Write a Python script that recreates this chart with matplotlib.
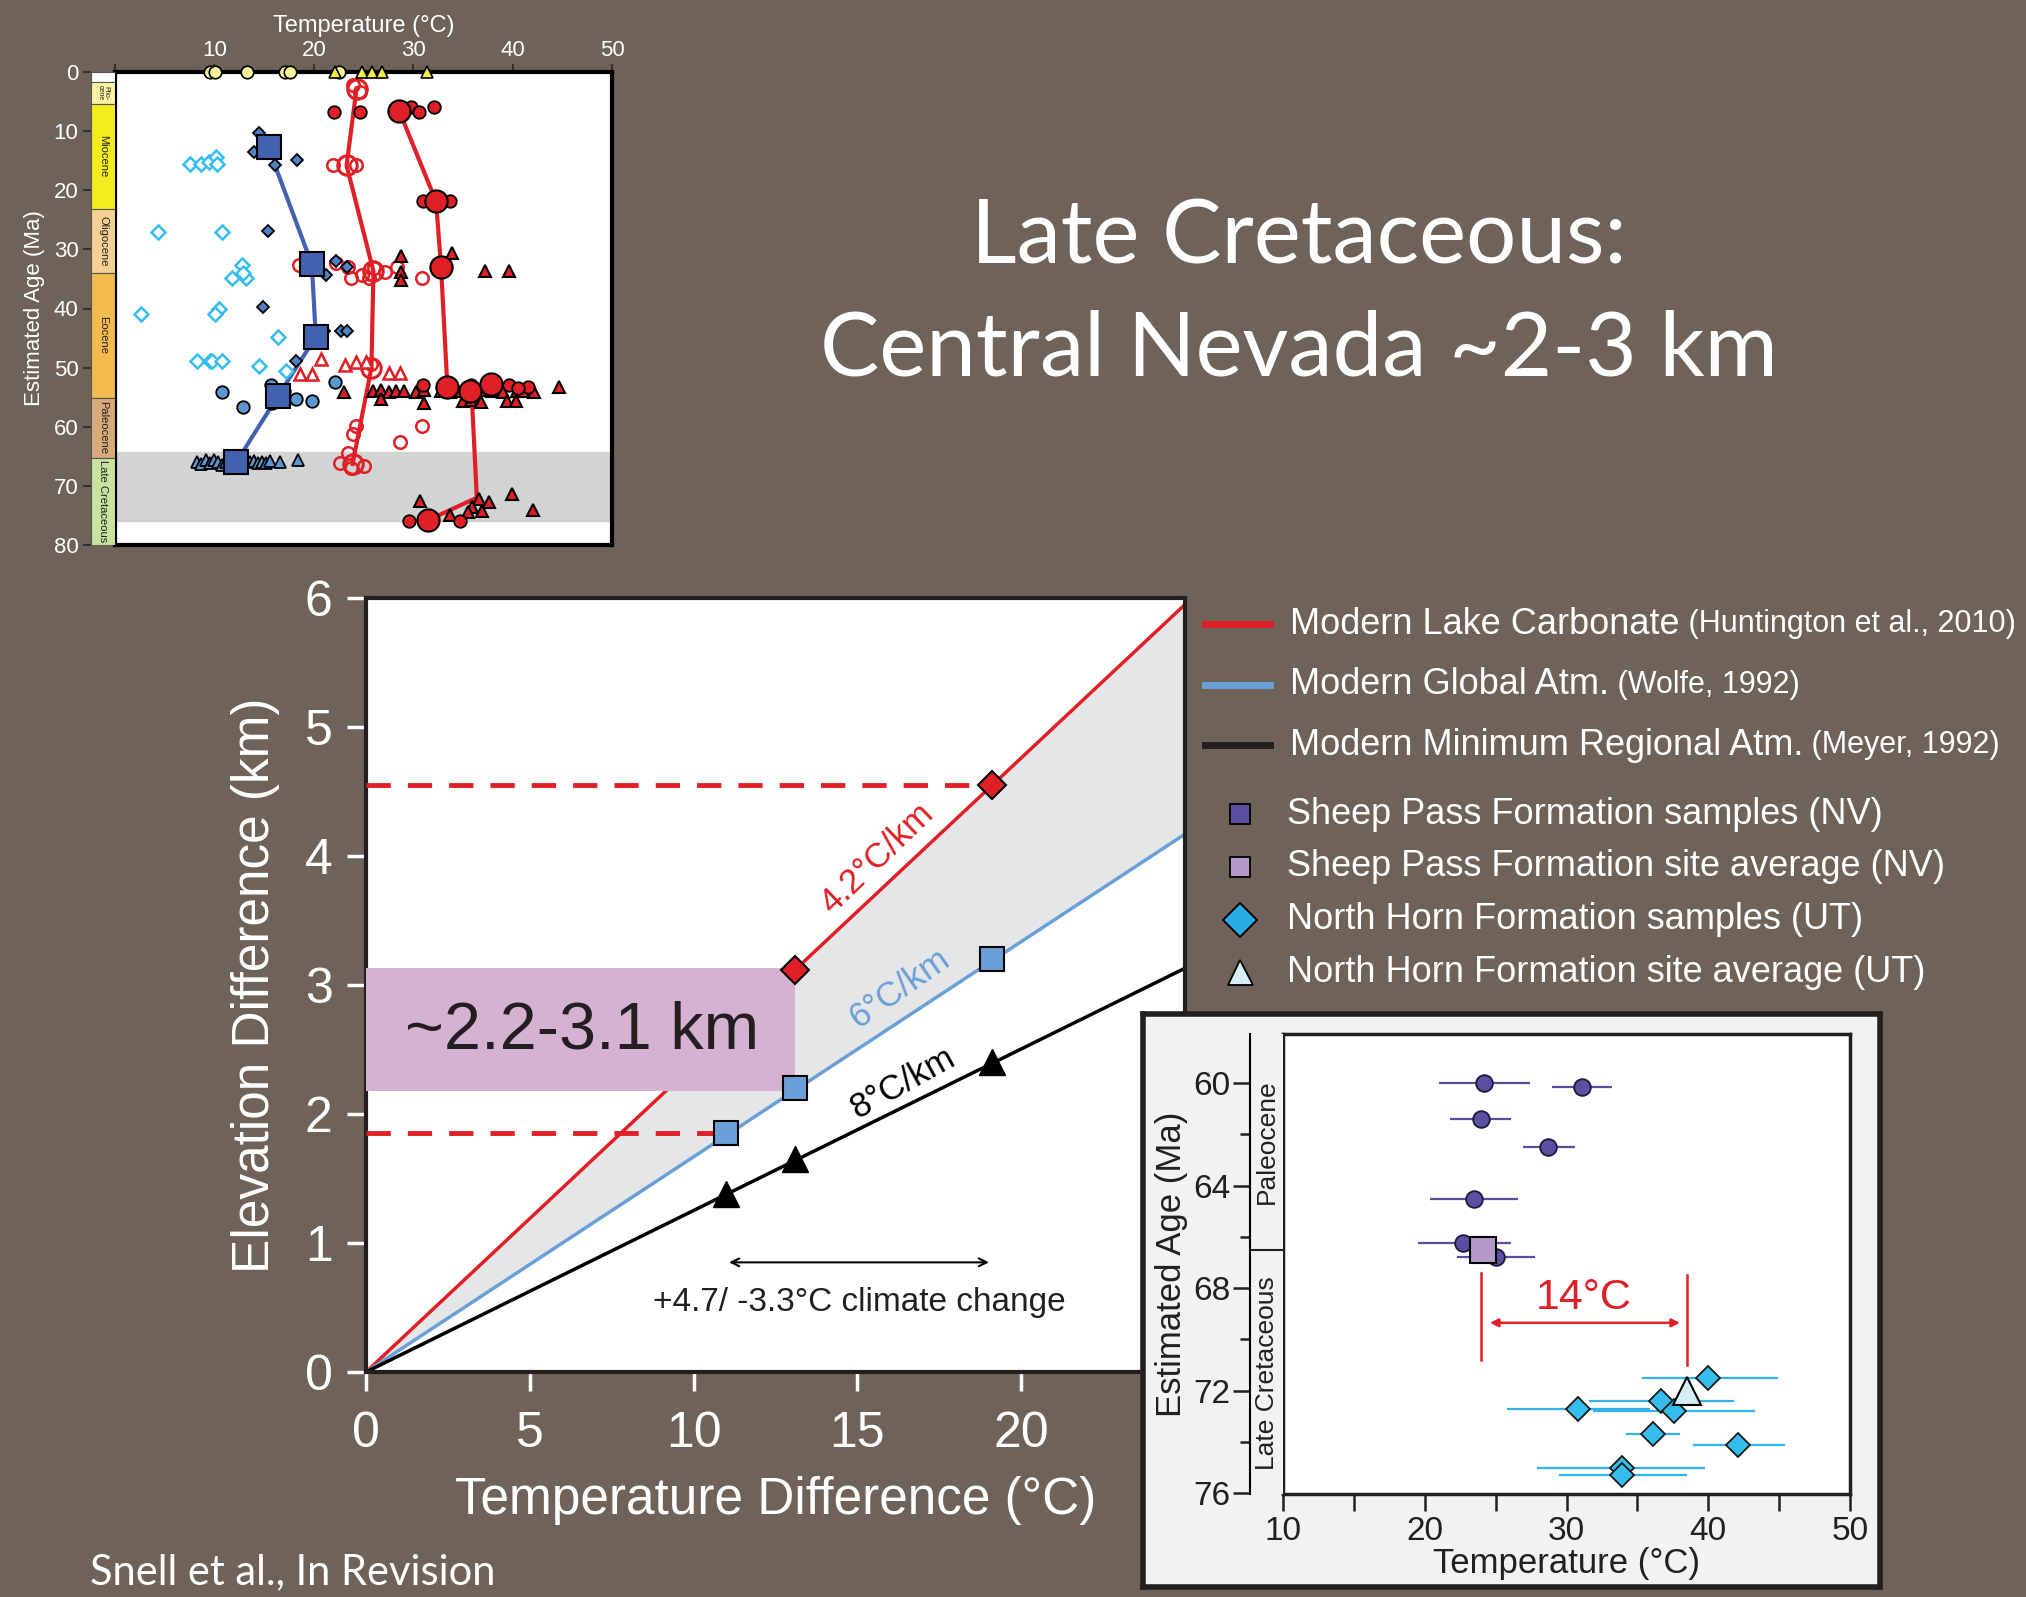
import matplotlib
matplotlib.use("Agg")
import matplotlib.pyplot as plt
import numpy as np
from matplotlib.lines import Line2D
from matplotlib.patches import Rectangle

plt.rcParams['font.family'] = ['Liberation Sans', 'DejaVu Sans']

BG = '#6f6258'
RED = '#e01f26'
LBLUE = '#6a9fd8'
DBLUE = '#4363b0'
CYAN = '#35bdee'
PURPLE = '#5a4fa0'
LPURPLE = '#b49ac8'

# ---------------- main chart data ----------------
line_x = [0, 25]
lake_y = [0, 5.95]      # 4.2 C/km
global_y = [0, 4.17]    # 6 C/km
regional_y = [0, 3.13]  # 8 C/km
dT_red = [13.1, 19.1]
elev_red = [3.12, 4.55]
dT_pts = [11.0, 13.1, 19.1]
elev_blue = [1.85, 2.2, 3.2]
elev_black = [1.38, 1.65, 2.4]
range_lo, range_hi = 2.18, 3.13

# ---------------- top-left inset data (temp, age) ----------------
yel_circ_T = [9.6, 10.1, 13.3, 17.1, 17.6, 22.5]
yel_tri_T = [22.1, 24.8, 25.9, 26.9, 31.4]

sq_T = [15.5, 19.8, 20.2, 16.4, 12.2]
sq_age = [12.7, 32.5, 44.8, 54.8, 66.0]
blue_line_T = [16.1, 19.8, 20.2, 16.4, 12.2]
blue_line_age = [15.8, 32.5, 44.8, 54.8, 66.0]

open_line_T = [24.3, 23.3, 26.0, 25.8, 23.9]
open_line_age = [2.8, 15.8, 33.7, 50.0, 66.3]

fill_line_T = [28.6, 32.3, 32.8, 33.4, 35.9, 36.4, 31.5]
fill_line_age = [6.6, 21.9, 32.9, 52.0, 55.0, 72.0, 75.8]
big_red_T = [28.6, 32.3, 32.8, 33.4, 35.7, 37.8, 31.5]
big_red_age = [6.6, 21.9, 32.9, 53.3, 54.0, 52.7, 75.8]

small_red_T = [22.0, 24.6, 29.8, 30.6, 32.1, 31.0, 33.7, 29.6, 34.7, 31.0, 35.8, 39.6, 41.5, 40.5]
small_red_age = [6.8, 6.8, 5.9, 6.8, 5.9, 21.9, 21.9, 76.0, 76.0, 53.0, 53.0, 53.0, 53.2, 53.4]

red_tri_T = [28.8, 28.8, 28.8, 33.9, 37.2, 39.6,
             23.0, 26.0, 26.8, 27.6, 28.3, 29.1, 30.3, 31.1, 32.8, 33.7, 34.3, 35.3,
             36.2, 37.0, 37.9, 39.0, 40.4, 41.0, 42.2, 44.7,
             26.8, 31.1, 35.0, 35.8, 36.8, 39.4, 40.3,
             30.7, 33.7, 36.6, 37.6, 39.9, 42.1, 35.9, 36.9, 35.5]
red_tri_age = [31.2, 33.8, 35.2, 30.6, 33.7, 33.7,
               54.1, 54.0, 53.8, 54.1, 53.9, 54.0, 54.1, 53.8, 54.0, 54.1, 53.9, 54.0,
               54.1, 53.8, 54.0, 54.1, 53.9, 54.0, 54.1, 53.2,
               55.3, 56.0, 55.6, 55.5, 55.8, 55.7, 55.6,
               72.6, 75.0, 72.3, 72.8, 71.4, 74.1, 73.5, 74.3, 74.4]

red_otri_T = [20.7, 18.6, 19.8, 23.1, 24.2, 25.3, 27.6, 28.7]
red_otri_age = [48.5, 51.0, 51.0, 49.5, 49.1, 49.1, 50.9, 50.9]

red_ocirc_T = [18.5, 22.2, 23.4, 23.7, 24.8, 25.6, 27.2, 28.4, 30.9, 21.9, 24.2,
               24.2, 23.9, 28.7, 30.9, 23.4, 22.6, 25.1, 23.7, 23.9, 24.6, 25.8, 26.1]
red_ocirc_age = [32.7, 32.3, 32.9, 34.9, 34.3, 34.9, 33.8, 32.9, 34.9, 15.8, 15.8,
                 59.9, 61.3, 62.5, 59.9, 64.5, 66.2, 66.6, 66.9, 2.2, 3.3, 49.4, 33.2]

bdia_T = [14.5, 18.3, 16.1, 15.4, 14.9, 18.2, 21.2, 22.7, 23.3, 22.2, 23.3, 21.0, 14.0]
bdia_age = [10.3, 14.9, 15.8, 26.9, 39.8, 48.9, 34.4, 43.8, 43.8, 32.0, 32.9, 43.8, 13.5]

cdia_T = [7.5, 8.7, 9.5, 10.2, 10.3, 4.3, 10.8, 12.8, 11.8, 13.2, 12.9, 2.6, 10.5, 10.1,
          16.4, 8.2, 9.6, 9.8, 10.8, 14.5, 17.2]
cdia_age = [15.5, 15.5, 15.2, 14.3, 15.5, 27.1, 27.1, 32.7, 34.9, 34.9, 34.0, 40.9, 40.0,
            41.0, 44.9, 48.9, 48.9, 48.9, 48.9, 49.8, 50.5]

bcirc_T = [10.8, 12.9, 15.7, 15.8, 18.2, 19.8, 22.1, 17.0]
bcirc_age = [54.2, 56.6, 53.0, 56.0, 55.3, 55.7, 52.4, 54.0]

btri_T = [8.2, 8.7, 9.2, 9.6, 10.0, 10.4, 10.8, 11.2, 11.6, 13.6, 14.0, 14.4, 14.8,
          15.2, 15.6, 16.6, 18.4]
btri_age = [65.9, 66.3, 65.7, 66.2, 65.6, 66.0, 66.4, 65.9, 66.2, 66.0, 65.8, 66.1,
            65.9, 66.2, 65.8, 66.0, 65.6]

epochs_top = [('', 0, 1.7, 'white'), ('Plio-\ncene', 1.7, 5.4, '#fbf4a0'),
              ('Miocene', 5.4, 23.1, '#f4ec1e'), ('Oligocene', 23.1, 34.0, '#f8cf92'),
              ('Eocene', 34.0, 55.1, '#f3ba4e'), ('Paleocene', 55.1, 65.3, '#d8a979'),
              ('Late Cretaceous', 65.3, 80, '#c7e39d')]

# ---------------- bottom-right inset data ----------------
sp_T = [24.2, 31.1, 24.0, 28.7, 23.5, 22.7, 25.0]
sp_age = [60.0, 60.15, 61.4, 62.5, 64.5, 66.25, 66.8]
sp_lo = [21.0, 29.0, 21.8, 26.9, 20.4, 19.5, 22.3]
sp_hi = [27.4, 33.2, 26.1, 30.6, 26.6, 26.1, 27.8]
sp_avg_T, sp_avg_age = 24.1, 66.5

nh_T = [40.0, 36.7, 30.8, 37.6, 36.1, 42.1, 33.9, 33.9]
nh_age = [71.5, 72.4, 72.7, 72.8, 73.7, 74.1, 75.0, 75.3]
nh_lo = [35.3, 31.6, 25.8, 31.9, 34.2, 38.9, 27.9, 29.5]
nh_hi = [44.9, 41.8, 35.9, 43.3, 38.0, 45.4, 39.8, 38.5]
nh_avg_T, nh_avg_age = 38.5, 72.0

W, H = 2026, 1597
fig = plt.figure(figsize=(W / 100, H / 100), dpi=100, facecolor=BG)


def fx(px):
    return px / W


def fy(py):
    return 1 - py / H


# ================= top-left inset =================
ax1 = fig.add_axes([fx(115), fy(545), fx(612 - 115), (545 - 72) / H])
ax1.set_xlim(0, 50)
ax1.set_ylim(80, 0)
ax1.axhspan(64.3, 76, color='#d2d3d3', zorder=0)
ax1.xaxis.tick_top()
ax1.xaxis.set_label_position('top')
ax1.set_xticks([0, 10, 20, 30, 40, 50])
ax1.set_xticklabels(['', '10', '20', '30', '40', '50'])
ax1.tick_params(axis='x', colors='white', labelsize=16, length=6, width=1.5, pad=2)
ax1.tick_params(axis='x', color='#333333')
ax1.set_yticks([])
ax1.set_xlabel('Temperature (°C)', color='white', fontsize=17, labelpad=6)
for s in ax1.spines.values():
    s.set_linewidth(3)
    s.set_color('black')

ax1.plot(blue_line_T, blue_line_age, color=DBLUE, lw=3, zorder=2)
ax1.plot(open_line_T, open_line_age, color=RED, lw=3, zorder=2)
ax1.plot(fill_line_T, fill_line_age, color=RED, lw=3, zorder=2)
ax1.plot(cdia_T, cdia_age, 'D', ms=7, mfc='white', mec=CYAN, mew=1.8, ls='none', zorder=3)
ax1.plot(red_ocirc_T, red_ocirc_age, 'o', ms=9, mfc='none', mec=RED, mew=1.8, ls='none', zorder=3)
ax1.plot(open_line_T, open_line_age, 'o', ms=14, mfc='none', mec=RED, mew=2.2, ls='none', zorder=3)
ax1.plot(red_otri_T, red_otri_age, '^', ms=9, mfc='white', mec=RED, mew=1.8, ls='none', zorder=3)
ax1.plot(bdia_T, bdia_age, 'D', ms=6, mfc='#4f82c4', mec='black', mew=1.3, ls='none', zorder=4)
ax1.plot(bcirc_T, bcirc_age, 'o', ms=9, mfc='#5b97d3', mec='black', mew=1.3, ls='none', zorder=4)
ax1.plot(btri_T, btri_age, '^', ms=9, mfc='#5b97d3', mec='black', mew=1.3, ls='none', zorder=4)
ax1.plot(red_tri_T, red_tri_age, '^', ms=9, mfc=RED, mec='black', mew=1.5, ls='none', zorder=4)
ax1.plot(small_red_T, small_red_age, 'o', ms=9, mfc=RED, mec='black', mew=1.3, ls='none', zorder=4)
ax1.plot(big_red_T, big_red_age, 'o', ms=16, mfc=RED, mec='black', mew=1.5, ls='none', zorder=5)
ax1.plot(sq_T, sq_age, 's', ms=17, mfc=DBLUE, mec='black', mew=1.5, ls='none', zorder=5)
ax1.plot(yel_circ_T, [0] * len(yel_circ_T), 'o', ms=9, mfc='#f7f19a', mec='black', mew=1.2,
         ls='none', zorder=6, clip_on=False)
ax1.plot(yel_tri_T, [0] * len(yel_tri_T), '^', ms=9, mfc='#f2ec4a', mec='black', mew=1.2,
         ls='none', zorder=6, clip_on=False)

# geologic column
axc = fig.add_axes([fx(91), fy(545), fx(115 - 91), (545 - 72) / H])
axc.set_xlim(0, 1)
axc.set_ylim(80, 0)
for name, a0, a1, col in epochs_top:
    axc.add_patch(Rectangle((0, a0), 1, a1 - a0, facecolor=col, edgecolor='#555555', lw=0.8))
    if name:
        fs = 5 if 'Plio' in name else 8
        axc.text(0.5, (a0 + a1) / 2, name, rotation=-90, ha='center', va='center',
                 fontsize=fs, color='#222222', linespacing=0.8)
axc.set_xticks([])
axc.set_yticks(range(0, 81, 10))
axc.tick_params(axis='y', colors='white', labelsize=16, length=6, width=1.5, pad=3)
axc.tick_params(axis='y', color='#333333')
for s in axc.spines.values():
    s.set_visible(False)
axc.set_ylabel('Estimated Age (Ma)', color='white', fontsize=16, labelpad=6)

# ================= title and credit =================
fig.text(fx(1299), fy(238), 'Late Cretaceous:', color='white', fontsize=64,
         family=['Lato', 'DejaVu Sans'], ha='center', va='center')
fig.text(fx(1299), fy(351), 'Central Nevada ~2-3 km', color='white', fontsize=64,
         family=['Lato', 'DejaVu Sans'], ha='center', va='center')
fig.text(fx(90), fy(1572), 'Snell et al., In Revision', color='white', fontsize=30,
         family=['Lato', 'DejaVu Sans'], ha='left', va='center')

# ================= main chart =================
ax = fig.add_axes([fx(366), fy(1372), fx(1185 - 366), (1372 - 598) / H])
ax.set_xlim(0, 25)
ax.set_ylim(0, 6)
ax.fill_between(line_x, global_y, lake_y, color='#e5e6e8', zorder=1, lw=0)
ax.plot(line_x, lake_y, color=RED, lw=2.5, zorder=2)
ax.plot(line_x, global_y, color=LBLUE, lw=2.5, zorder=2)
ax.plot(line_x, regional_y, color='black', lw=2.5, zorder=2)
ax.add_patch(Rectangle((0, range_lo), dT_red[0], range_hi - range_lo,
                       facecolor='#d5b1d2', edgecolor='none', zorder=3))
ax.plot([0, dT_red[1]], [elev_red[1]] * 2, color=RED, lw=3.5, ls=(0, (5, 3.5)), zorder=4)
ax.plot([0, dT_pts[0]], [elev_blue[0]] * 2, color=RED, lw=3.5, ls=(0, (5, 3.5)), zorder=4)
ax.plot(dT_red, elev_red, 'D', ms=14, mfc=RED, mec='black', mew=1.5, ls='none', zorder=5)
ax.plot(dT_pts, elev_blue, 's', ms=17, mfc=LBLUE, mec='black', mew=1.5, ls='none', zorder=5)
ax.plot(dT_pts, elev_black, '^', ms=19, mfc='black', mec='black', ls='none', zorder=5)

ax.text(6.6, 2.64, '~2.2-3.1 km', fontsize=48, color='#231f20', ha='center', va='center', zorder=6)
ax.text(15.6, 3.98, '4.2°C/km', fontsize=25, color=RED, rotation=44, ha='center', va='center',
        rotation_mode='anchor', zorder=6)
ax.text(16.3, 2.97, '6°C/km', fontsize=25, color=LBLUE, rotation=35, ha='center', va='center',
        rotation_mode='anchor', zorder=6)
ax.text(16.4, 2.24, '8°C/km', fontsize=25, color='black', rotation=29, ha='center', va='center',
        rotation_mode='anchor', zorder=6)
ax.annotate('', xy=(dT_pts[0], 0.85), xytext=(dT_pts[2], 0.85),
            arrowprops=dict(arrowstyle='<->', color='black', lw=1.5, mutation_scale=14))
ax.text(15.05, 0.535, '+4.7/ -3.3°C climate change', fontsize=24, color='#231f20',
        ha='center', va='center')

ax.set_xticks([0, 5, 10, 15, 20])
ax.set_yticks(range(0, 7))
ax.tick_params(colors='white', labelsize=36, length=14, width=2.5)
ax.tick_params(axis='x', pad=14)
ax.tick_params(axis='y', pad=10)
ax.set_xlabel('Temperature Difference (°C)', color='white', fontsize=37, labelpad=14)
ax.set_ylabel('Elevation Difference (km)', color='white', fontsize=37, labelpad=18)
for s in ax.spines.values():
    s.set_linewidth(3)
    s.set_color('#231f20')

# ================= legend =================
leg_lines = [(RED, 'Modern Lake Carbonate', ' (Huntington et al., 2010)', 624),
             (LBLUE, 'Modern Global Atm.', ' (Wolfe, 1992)', 685),
             ('#231f20', 'Modern Minimum Regional Atm.', ' (Meyer, 1992)', 745)]
renderer = fig.canvas.get_renderer()
for col, main, ref, py in leg_lines:
    fig.add_artist(Line2D([fx(1205), fx(1270)], [fy(py), fy(py)], color=col, lw=5))
    t = fig.text(fx(1290), fy(py), main, color='white', fontsize=26, va='center', ha='left')
    bb = t.get_window_extent(renderer=renderer)
    fig.text(bb.x1 / W, fy(py), ref, color='white', fontsize=22, va='center', ha='left')

leg_marks = [('s', PURPLE, 'Sheep Pass Formation samples (NV)', 814, 15),
             ('s', LPURPLE, 'Sheep Pass Formation site average (NV)', 867, 15),
             ('D', '#29aae2', 'North Horn Formation samples (UT)', 920, 17),
             ('^', '#d4eef4', 'North Horn Formation site average (UT)', 972, 18)]
for mk, col, label, py, ms in leg_marks:
    fig.add_artist(Line2D([fx(1240)], [fy(py)], marker=mk, ms=ms, mfc=col, mec='black', mew=1.3,
                          ls='none'))
    fig.text(fx(1287), fy(py), label, color='white', fontsize=26, va='center', ha='left')

# ================= bottom-right inset =================
frame = fig.add_axes([fx(1143), fy(1587), fx(1880 - 1143), (1587 - 1014) / H], zorder=5)
frame.set_facecolor('#f1f2f3')
frame.set_xticks([])
frame.set_yticks([])
for s in frame.spines.values():
    s.set_linewidth(4)
    s.set_color('#231f20')

ax2 = fig.add_axes([fx(1283), fy(1494), fx(1850 - 1283), (1494 - 1034) / H], zorder=6)
ax2.set_facecolor('white')
ax2.set_xlim(10, 50)
ax2.set_ylim(76.03, 58.08)
sp_err = [np.array(sp_T) - np.array(sp_lo), np.array(sp_hi) - np.array(sp_T)]
nh_err = [np.array(nh_T) - np.array(nh_lo), np.array(nh_hi) - np.array(nh_T)]
ax2.errorbar(sp_T, sp_age, xerr=sp_err, fmt='o', ms=12, mfc=PURPLE, mec='#1a1a3a', mew=1.3,
             ecolor='#5a4fa0', elinewidth=1.6, capsize=0, zorder=3)
ax2.plot([sp_avg_T], [sp_avg_age], 's', ms=19, mfc=LPURPLE, mec='black', mew=1.5, zorder=4)
ax2.errorbar(nh_T, nh_age, xerr=nh_err, fmt='D', ms=12, mfc=CYAN, mec='#1a1a1a', mew=1.3,
             ecolor='#2fb3ea', elinewidth=1.6, capsize=0, zorder=3)
ax2.plot([nh_avg_T], [nh_avg_age], '^', ms=20, mfc='#d4eef4', mec='black', mew=1.5, zorder=4)
ax2.plot([24.0, 24.0], [67.4, 70.8], color=RED, lw=1.8)
ax2.plot([38.5, 38.5], [67.5, 71.0], color=RED, lw=1.8)
ax2.annotate('', xy=(24.4, 69.35), xytext=(38.2, 69.35),
             arrowprops=dict(arrowstyle='<|-|>', color=RED, lw=1.8, mutation_scale=12))
ax2.text(31.2, 68.4, '14°C', color=RED, fontsize=31, ha='center', va='center')
ax2.set_xticks(range(10, 51, 10))
ax2.set_xticks(range(15, 50, 10), minor=True)
ax2.set_yticks([])
ax2.tick_params(axis='x', which='both', direction='out', length=12, width=1.8, labelsize=24,
                colors='#231f20', pad=4)
ax2.set_xlabel('Temperature (°C)', fontsize=25, color='#231f20', labelpad=0)
for s in ax2.spines.values():
    s.set_linewidth(2.5)
    s.set_color('#231f20')

axc2 = fig.add_axes([fx(1250), fy(1494), fx(1283 - 1250), (1494 - 1034) / H], zorder=6)
axc2.set_facecolor('#f1f2f3')
axc2.set_xlim(0, 1)
axc2.set_ylim(76.03, 58.08)
axc2.set_xticks([])
axc2.axhline(66.5, color='#231f20', lw=1.5)
axc2.text(0.5, 62.3, 'Paleocene', rotation=90, ha='center', va='center', fontsize=19,
          color='#231f20')
axc2.text(0.5, 71.3, 'Late Cretaceous', rotation=90, ha='center', va='center', fontsize=19,
          color='#231f20')
axc2.set_yticks([60, 64, 68, 72, 76])
axc2.set_yticks([62, 66, 70, 74], minor=True)
axc2.tick_params(axis='y', which='both', length=12, width=1.8, labelsize=24, colors='#231f20',
                 pad=2)
axc2.tick_params(axis='y', which='minor', length=7)
for side in ('top', 'right', 'bottom'):
    axc2.spines[side].set_visible(False)
axc2.spines['left'].set_linewidth(1.5)
axc2.set_ylabel('Estimated Age (Ma)', fontsize=25, color='#231f20', labelpad=4)

fig.savefig('out.png', dpi=100, facecolor=BG)
